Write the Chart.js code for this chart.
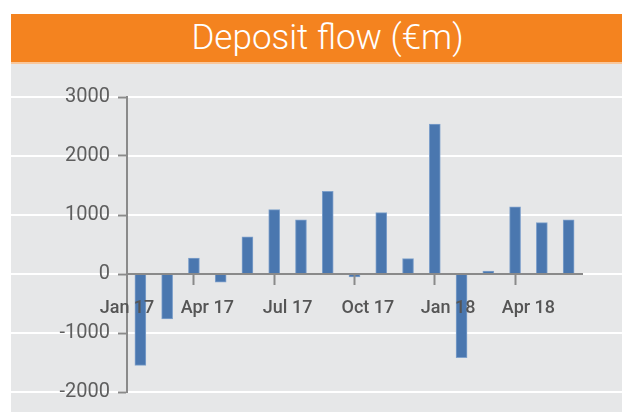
<!DOCTYPE html>
<html>
<head>
<meta charset="utf-8">
<script src="https://cdn.jsdelivr.net/npm/chart.js@4"></script>
<style>
  body { margin: 0; background: #fff; }
  #banner {
    position: absolute; left: 11px; top: 14px; width: 589px; height: 48px; padding-left: 22px;
    background: #F4831F; color: #fff; text-align: center;
    font: 300 35px Roboto, sans-serif; line-height: 48px;
    border-bottom: 2px solid #F9C79B;
  }
  #panel { position: absolute; left: 11px; top: 64px; width: 611px; height: 348px; background: #E6E7E8; }
</style>
</head>
<body>
<div id="banner">Deposit flow (€m)</div>
<div id="panel"><canvas id="chart" width="611" height="348"></canvas></div>
<script>
const months = ['Jan 17', 'Feb 17', 'Mar 17', 'Apr 17', 'May 17', 'Jun 17', 'Jul 17', 'Aug 17', 'Sep 17',
	'Oct 17', 'Nov 17', 'Dec 17', 'Jan 18', 'Feb 18', 'Mar 18', 'Apr 18', 'May 18'];
const flows = [-1550, -760, 270, -140, 630, 1090, 920, 1400, -50, 1040, 260, 2540, -1420, 50, 1140, 870, 920];
// labels sit on the month boundaries, one every quarter
const tickLabels = ['Jan 17', '', '', 'Apr 17', '', '', 'Jul 17', '', '', 'Oct 17', '', '', 'Jan 18', '', '', 'Apr 18', '', ''];

const axisGrey = '#8a8a8a';

// white guide lines run across the whole grey panel
const fullGrid = {
	id: 'fullGrid',
	beforeDraw(chart) {
		const ctx = chart.ctx;
		const y = chart.scales.y;
		ctx.save();
		ctx.strokeStyle = '#fff';
		ctx.lineWidth = 2;
		y.ticks.forEach((t) => {
			const py = y.getPixelForValue(t.value);
			ctx.beginPath();
			ctx.moveTo(0, py);
			ctx.lineTo(chart.width, py);
			ctx.stroke();
		});
		ctx.restore();
	},
};

const ctx = document.getElementById('chart').getContext('2d');
new Chart(ctx, {
	type: 'bar',
	data: {
		labels: months,
		datasets: [
			{
				data: flows,
				backgroundColor: '#4A77AF',
				borderColor: '#7FA1CB',
				borderWidth: 1,
				barThickness: 11,
			},
		],
	},
	options: {
		responsive: false,
		animation: false,
		layout: { padding: { left: 0, right: 40, top: 33, bottom: 20 } },
		plugins: { legend: { display: false }, tooltip: { enabled: false } },
		scales: {
			x: { display: false },
			x2: {
				type: 'category',
				labels: tickLabels,
				offset: false,
				position: { y: 0 },
				border: { color: axisGrey, width: 2, z: 1 },
				grid: {
					z: 1,
					drawOnChartArea: false,
					tickLength: 10,
					tickWidth: 2,
					tickColor: (c) => (tickLabels[c.index] ? axisGrey : 'rgba(0,0,0,0)'),
				},
				ticks: {
					z: 1,
					autoSkip: false,
					maxRotation: 0,
					padding: 14,
					color: '#555',
					font: { family: 'Roboto', size: 18, weight: 500 },
				},
			},
			y: {
				min: -2000,
				max: 3000,
				afterFit: (s) => { s.width = 116; },
				border: { color: axisGrey, width: 2 },
				grid: { drawOnChartArea: false, tickLength: 9, tickWidth: 2, tickColor: axisGrey },
				ticks: {
					stepSize: 1000,
					padding: 8,
					color: '#5e5e5e',
					font: { family: 'Roboto', size: 20 },
					callback: (v) => String(v),
				},
			},
		},
	},
	plugins: [fullGrid],
});
</script>
</body>
</html>
